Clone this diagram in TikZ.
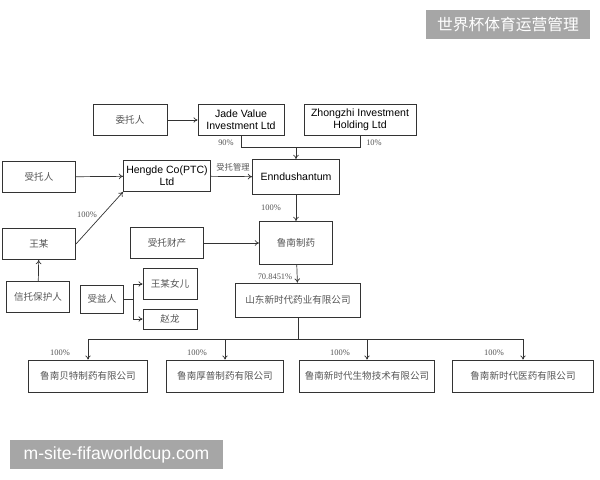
\documentclass[tikz,border=0pt]{standalone}
\usepackage{fontspec}
\setmainfont{Liberation Sans}
\newfontfamily\cjk{Noto Sans CJK SC}
\newfontfamily\pctfont{Liberation Serif}
\usetikzlibrary{arrows.meta}
\definecolor{boxline}{HTML}{333333}
\definecolor{zhtext}{HTML}{555555}
\definecolor{markgray}{HTML}{A6A6A6}
\begin{document}
\begin{tikzpicture}[x=0.025cm, y=-0.025cm,
  box/.style={draw=boxline, line width=0.5pt, inner sep=0pt, minimum height=0.78cm,
    align=center, font=\fontsize{7.5}{8.5}\selectfont},
  zhbox/.style={box, text=zhtext, font=\cjk\fontsize{6.8}{8}\selectfont},
  link/.style={draw=boxline, line width=0.5pt},
  arr/.style={link, -{To[length=3pt,width=4pt]}},
  pct/.style={font=\pctfont\fontsize{6}{6.5}\selectfont, text=zhtext, inner sep=1pt},
  markbox/.style={fill=markgray, text=white, inner sep=0pt}]
\useasboundingbox (0,0) rectangle (600,480);
% owners
\node[zhbox, minimum width=1.85cm] (weituo) at (130,120) {委托人};
\node[box, minimum width=2.15cm] (jade) at (241,120) {Jade Value\\Investment Ltd};
\node[box, minimum width=2.8cm] (zhongzhi) at (360,120) {Zhongzhi Investment\\Holding Ltd};
\node[zhbox, minimum width=1.83cm] (shoutuo) at (39,177) {受托人};
\node[box, minimum width=2.18cm] (hengde) at (167,176) {Hengde Co(PTC)\\Ltd};
\node[box, minimum width=2.18cm, minimum height=0.88cm] (enndu) at (296,177) {Enndushantum};
\node[zhbox, minimum width=1.83cm] (wang) at (39,244) {王某};
\node[zhbox, minimum width=1.83cm] (caichan) at (167,243) {受托财产};
\node[zhbox, minimum width=1.83cm, minimum height=1.08cm] (lunan) at (296,243) {鲁南制药};
\node[zhbox, minimum width=1.58cm] (baohu) at (38,297) {信托保护人};
\node[zhbox, minimum width=1.08cm, minimum height=0.7cm] (shouyi) at (102,299) {受益人};
\node[zhbox, minimum width=1.35cm] (nuer) at (170,284) {王某女儿};
\node[zhbox, minimum width=1.35cm, minimum height=0.5cm] (zhaolong) at (170,319) {赵龙};
\node[zhbox, minimum width=3.13cm, minimum height=0.85cm] (shandong) at (298,300) {山东新时代药业有限公司};
% subsidiaries
\node[zhbox, minimum width=2.98cm, minimum height=0.8cm] (sub1) at (88,376) {鲁南贝特制药有限公司};
\node[zhbox, minimum width=2.93cm, minimum height=0.8cm] (sub2) at (225,376) {鲁南厚普制药有限公司};
\node[zhbox, minimum width=3.38cm, minimum height=0.8cm] (sub3) at (367,376) {鲁南新时代生物技术有限公司};
\node[zhbox, minimum width=3.53cm, minimum height=0.8cm] (sub4) at (523,376) {鲁南新时代医药有限公司};
% connectors
\coordinate (merge) at (296,147);
\coordinate (bus) at (298,339);
\draw[arr] (weituo) -- (jade);
\draw[link] (jade.south) |- (merge);
\draw[link] (zhongzhi.south) |- (merge);
\draw[arr] (merge) -- (enndu);
\draw[arr] (shoutuo) -- (hengde);
\draw[arr] (wang.east) -- (hengde.south west);
\draw[arr] (hengde) -- (enndu);
\draw[arr] (enndu) -- (lunan);
\draw[arr] (caichan) -- (lunan);
\draw[arr] (baohu) -- (wang);
\draw[arr] (shouyi.east) -- ++(9,0) |- (nuer.west);
\draw[arr] (shouyi.east) -- ++(9,0) |- (zhaolong.west);
\draw[arr] (lunan) -- (shandong);
\draw[link] (shandong.south) -- (bus);
\draw[arr] (bus) -| (sub1.north);
\draw[arr] (bus) -| (sub2.north);
\draw[arr] (bus) -| (sub3.north);
\draw[arr] (bus) -| (sub4.north);
% labels
\node[pct] at (226,143) {90\%};
\node[pct] at (374,143) {10\%};
\node[pct, font=\cjk\fontsize{5.9}{6.5}\selectfont] at (233,167) {受托管理};
\node[pct] at (87,215) {100\%};
\node[pct] at (271,208) {100\%};
\node[pct] at (275,277) {70.8451\%};
\node[pct] at (60,353) {100\%};
\node[pct] at (197,353) {100\%};
\node[pct] at (340,353) {100\%};
\node[pct] at (494,353) {100\%};
% watermarks
\node[markbox, minimum width=4.1cm, minimum height=0.73cm, font=\cjk\fontsize{11.2}{12}\selectfont] (marktop) at (508,24.5) {世界杯体育运营管理};
\node[markbox, minimum width=5.33cm, minimum height=0.73cm, font=\fontsize{12.5}{13}\selectfont] (markurl) at (116.5,454.5) {m-site-fifaworldcup.com};
\end{tikzpicture}
\end{document}
